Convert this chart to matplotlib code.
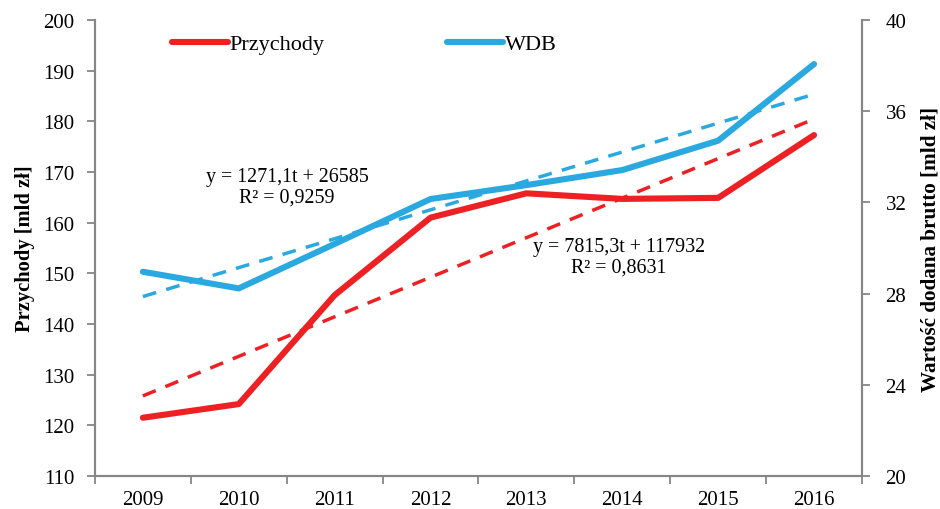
import matplotlib
matplotlib.use("Agg")
import matplotlib.pyplot as plt
import numpy as np

years = ["2009", "2010", "2011", "2012", "2013", "2014", "2015", "2016"]
przychody = [121.5, 124.2, 145.7, 161.0, 165.8, 164.7, 164.9, 177.3]
wdb = [28.96, 28.23, 30.18, 32.15, 32.76, 33.42, 34.71, 38.07]
eq_wdb = ["y = 1271,1t + 26585", "R² = 0,9259"]
eq_prz = ["y = 7815,3t + 117932", "R² = 0,8631"]

RED = "#ED2024"
BLUE = "#2AA9E0"
GRAY = "#868686"

plt.rcParams['font.family'] = ['Liberation Serif', 'DejaVu Serif']

fig = plt.figure(figsize=(9.4, 5.1), dpi=100)
ax = fig.add_axes([0.101, 0.0647, 0.816, 0.894])
ax2 = ax.twinx()

x = np.arange(len(years))
t = x + 1

# trend lines
pr = np.polyfit(t, przychody, 1)
pw = np.polyfit(t, wdb, 1)
ax.plot(x, np.polyval(pr, t), color=RED, lw=2.5, dashes=(4, 3))
ax2.plot(x, np.polyval(pw, t), color=BLUE, lw=2.5, dashes=(4, 3))

l1, = ax.plot(x, przychody, color=RED, lw=4.4, solid_capstyle='round', label="Przychody")
l2, = ax2.plot(x, wdb, color=BLUE, lw=4.4, solid_capstyle='round', label="WDB")

ax.set_xlim(-0.5, len(years) - 0.5)
ax.set_ylim(110, 200)
ax.set_yticks(np.arange(110, 201, 10))
ax2.set_ylim(20, 40)
ax2.set_yticks(np.arange(20, 41, 4))

ax.set_xticks(x)
ax.set_xticklabels(years)
ax.set_xticks(np.arange(-0.5, len(years)), minor=True)
ax.tick_params(axis='x', which='major', length=0, pad=10, labelsize=15)
ax.tick_params(axis='x', which='minor', length=6, color=GRAY, width=1.3, direction='out')
ax.tick_params(axis='y', length=6, color=GRAY, width=1.3, direction='out', labelsize=15, pad=9)
ax2.tick_params(axis='y', length=6, color=GRAY, width=1.3, direction='out', labelsize=15, pad=11)

for a in (ax, ax2):
    a.spines['top'].set_visible(False)
    for s in ('left', 'right', 'bottom'):
        a.spines[s].set_color(GRAY)
        a.spines[s].set_linewidth(1.5)

ax.set_ylabel("Przychody [mld zł]", fontsize=14.8, fontweight='bold', labelpad=6)
ax2.set_ylabel("Wartość dodana brutto [mld zł]", fontsize=15.2, fontweight='bold', labelpad=10)

ax.annotate(eq_wdb[0] + "\n" + eq_wdb[1], xy=(287 / 940, 1 - 188 / 510), xycoords='figure fraction',
            ha='center', va='center', fontsize=14.4, linespacing=1.1)
ax.annotate(eq_prz[0] + "\n" + eq_prz[1], xy=(619 / 940, 1 - 258 / 510), xycoords='figure fraction',
            ha='center', va='center', fontsize=14.4, linespacing=1.1)

fig.legend(handles=[l1, l2], loc='center left', bbox_to_anchor=(172 / 940, 1 - 45 / 510),
           ncol=2, frameon=False, fontsize=16, handlelength=2.5, handletextpad=0.1,
           columnspacing=5.5, borderaxespad=0, borderpad=0)

fig.savefig("out.png", dpi=100)
